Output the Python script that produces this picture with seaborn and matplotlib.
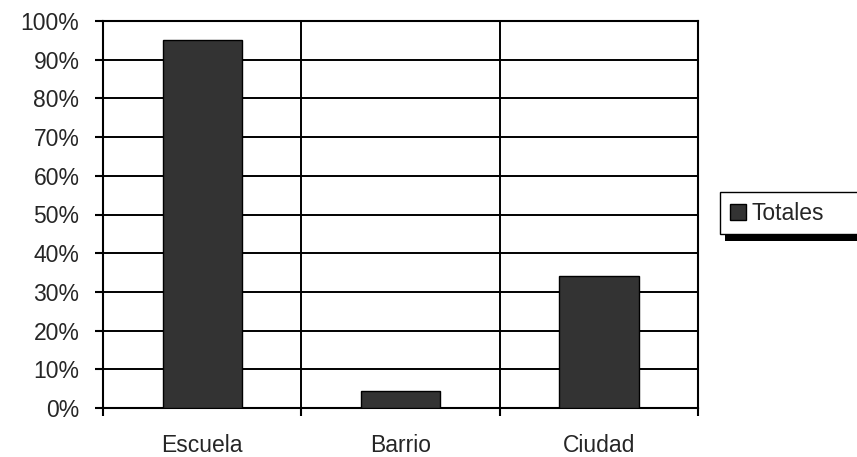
import matplotlib
matplotlib.use("Agg")
import matplotlib.pyplot as plt
from matplotlib.patches import Rectangle
from matplotlib.ticker import PercentFormatter
import pandas as pd
import seaborn as sns

# Share of responses by scope
categories = ["Escuela", "Barrio", "Ciudad"]
totales = [95, 4.4, 34]
series_name = "Totales"
y_ticks = list(range(0, 101, 10))

df = pd.DataFrame({"ambito": categories, "valor": totales, "serie": series_name})

sns.set_style("white")
plt.rcParams["font.family"] = ["Liberation Sans", "DejaVu Sans"]
FS = 16.5

fig = plt.figure(figsize=(8.57, 4.57), dpi=100)
ax = fig.add_axes([103 / 857, 1 - 408 / 457, (698 - 103) / 857, (408 - 21) / 457])

sns.barplot(data=df, x="ambito", y="valor", hue="serie", palette=["#333333"],
            width=0.4, edgecolor="black", linewidth=1.0, ax=ax, legend=True,
            zorder=3)

ax.set_xlim(-0.5, len(categories) - 0.5)
ax.set_ylim(0, 100)
ax.set_yticks(y_ticks)
ax.yaxis.set_major_formatter(PercentFormatter(decimals=0))

# Category labels at bar centres, separator ticks and gridlines at boundaries
ax.set_xticks(range(len(categories)))
ax.set_xticklabels(categories)
ax.set_xticks([i + 0.5 for i in range(-1, len(categories))], minor=True)
ax.tick_params(axis="x", which="major", length=0, pad=19, labelsize=FS)
ax.tick_params(axis="x", which="minor", length=6, width=1.5, color="black",
               direction="out", bottom=True)
ax.tick_params(axis="y", which="major", length=6, width=1.5, color="black",
               direction="out", left=True, pad=11, labelsize=FS)

ax.set_axisbelow(True)
ax.grid(axis="y", which="major", color="black", linewidth=1.4)
ax.grid(axis="x", which="minor", color="black", linewidth=1.4)
ax.grid(axis="x", which="major", visible=False)

for side in ["left", "right", "top", "bottom"]:
    ax.spines[side].set_visible(True)
    ax.spines[side].set_color("black")
    ax.spines[side].set_linewidth(1.5)

ax.set_xlabel("")
ax.set_ylabel("")

# Legend box running off the right edge, with a solid drop shadow
leg = ax.legend(loc="upper left", mode="expand",
                bbox_to_anchor=(720 / 857, 1 - 192 / 457, 0.25, 0),
                bbox_transform=fig.transFigure, frameon=True, fancybox=False,
                framealpha=1.0, fontsize=FS, handlelength=0.7, handleheight=0.7,
                handletextpad=0.26, borderpad=0.42, borderaxespad=0)
leg.get_frame().set_edgecolor("black")
leg.get_frame().set_linewidth(1.0)
leg.get_frame().set_facecolor("white")

fig.canvas.draw()
bb = leg.get_window_extent().transformed(fig.transFigure.inverted())
fig.patches.append(Rectangle((bb.x0 + 5 / 857, bb.y0 - 7 / 457), bb.width, bb.height,
                             transform=fig.transFigure, facecolor="black",
                             edgecolor="none", zorder=-1))

fig.savefig("out.png", dpi=100)
